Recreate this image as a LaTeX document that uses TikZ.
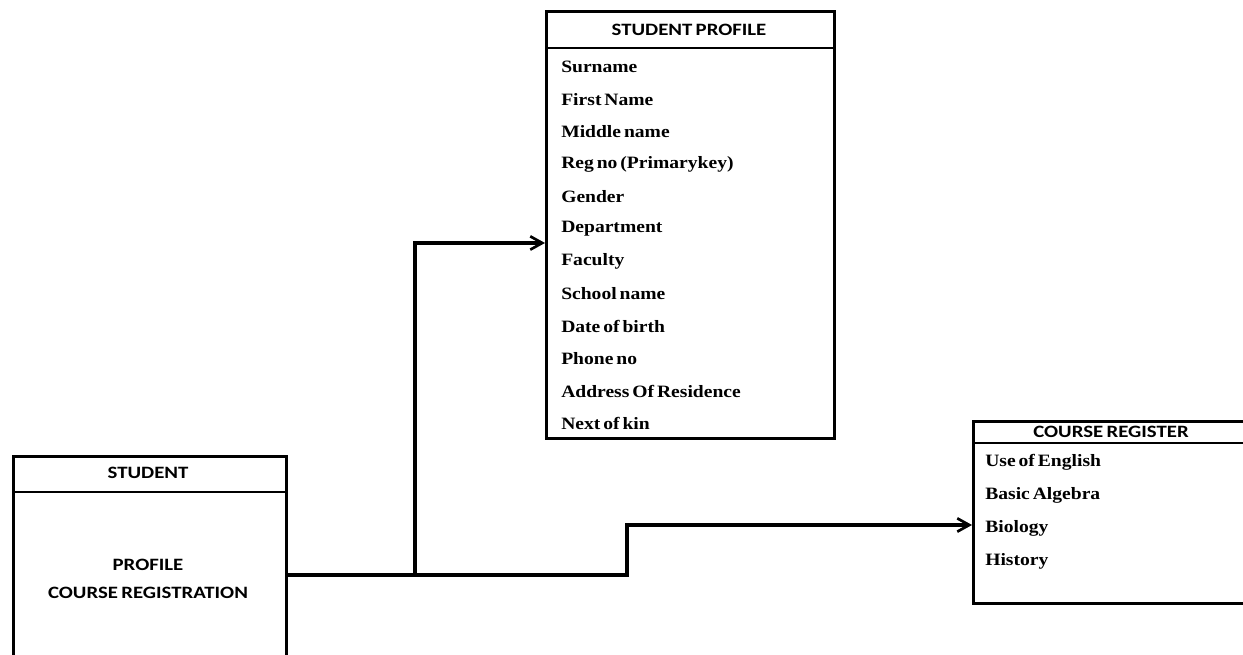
\documentclass[tikz,border=0pt]{standalone}
\usepackage{fontspec}
\setmainfont{Liberation Serif}[FakeStretch=1.13, WordSpace=0.6]
\newfontfamily\hdrfont{Carlito}[FakeStretch=1.2, WordSpace=0.7]
\usetikzlibrary{arrows.meta}

\begin{document}
\begin{tikzpicture}[x=0.75pt,y=-0.75pt,
  entity/.style={draw=black, line width=2.3pt, rectangle, inner sep=0pt, anchor=north west},
  divider/.style={draw=black, line width=1.8pt},
  headtext/.style={font=\hdrfont\bfseries\fontsize{13}{14}\selectfont, inner sep=0pt},
  fieldtext/.style={font=\bfseries\fontsize{13}{14}\selectfont, inner sep=0pt, anchor=west},
  conn/.style={draw=black, line width=2.3pt},
  arrowconn/.style={conn, -{Straight Barb[length=9pt, width=10pt, line width=2pt]}}
]
\clip (0,0) rectangle (1243,655);
\fill[white] (0,0) rectangle (1243,655);

% Entity boxes
\node[entity, minimum width={273*0.75pt}, minimum height={215*0.75pt}] (st) at (12,455) {};
\node[entity, minimum width={288*0.75pt}, minimum height={427*0.75pt}] (sp) at (545,10) {};
\node[entity, minimum width={290*0.75pt}, minimum height={182*0.75pt}] (cr) at (972,420) {};

% Header dividers
\coordinate (stdiv) at (0,492);
\coordinate (spdiv) at (0,48);
\coordinate (crdiv) at (0,443);
\draw[divider] (st.west |- stdiv) -- (st.east |- stdiv);
\draw[divider] (sp.west |- spdiv) -- (sp.east |- spdiv);
\draw[divider] (cr.west |- crdiv) -- (cr.east |- crdiv);

% STUDENT
\node[headtext] (st-title) at (148,473) {STUDENT};
\node[headtext] (st-l1) at (148,565) {PROFILE};
\node[headtext] (st-l2) at (148,593) {COURSE REGISTRATION};

% STUDENT PROFILE
\node[headtext] (sp-title) at (689,30) {STUDENT PROFILE};
\foreach \t [count=\i] in {Surname, First Name, Middle name, Reg no (Primarykey), Gender,
  Department, Faculty, School name, Date of birth, Phone no, Address Of Residence, Next of kin}
  \node[fieldtext] (sp-f\i) at (561, {67+(\i-1)*32.4}) {\t};

% COURSE REGISTER
\node[headtext] (cr-title) at (1111,432) {COURSE REGISTER};
\foreach \t [count=\i] in {Use of English, Basic Algebra, Biology, History}
  \node[fieldtext] (cr-f\i) at (985, {462+(\i-1)*33}) {\t};

% Connectors
\coordinate (j1) at (415,575);
\coordinate (j2) at (627,575);
\coordinate (h1) at (0,243);
\coordinate (h2) at (0,525);
\draw[arrowconn] (st.east |- j1) -- (j1) |- (sp.west |- h1);
\draw[arrowconn] (j1) -- (j2) |- (cr.west |- h2);
\end{tikzpicture}
\end{document}
